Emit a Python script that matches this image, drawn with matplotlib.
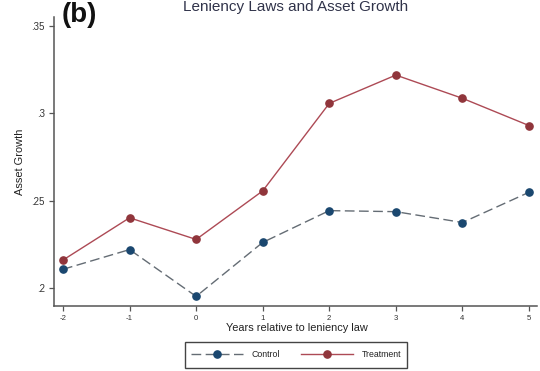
import matplotlib
matplotlib.use("Agg")
import matplotlib.pyplot as plt
from matplotlib.patches import Rectangle
from matplotlib.lines import Line2D

years = [-2, -1, 0, 1, 2, 3, 4, 5]
control = [0.2107, 0.2220, 0.1952, 0.2261, 0.2443, 0.2437, 0.2375, 0.2548]
treatment = [0.2160, 0.2402, 0.2278, 0.2556, 0.3057, 0.3219, 0.3086, 0.2930]
yticks = [0.20, 0.25, 0.30, 0.35]
yticklabels = [".2", ".25", ".3", ".35"]
title = "Leniency Laws and Asset Growth"
panel = "(b)"
xlabel = "Years relative to leniency law"
ylabel = "Asset Growth"
series_names = ["Control", "Treatment"]

plt.rcParams['font.family'] = ['Liberation Sans', 'DejaVu Sans']

W, H = 540, 371
fig = plt.figure(figsize=(W / 100, H / 100), dpi=100)
fig.patch.set_facecolor('white')

left, right, top, bottom = 54, 537, 16.7, 305.7
ax = fig.add_axes([left / W, (H - bottom) / H, (right - left) / W, (bottom - top) / H])

c_mark, c_line = '#1a476f', '#646c74'
t_mark, t_line = '#90353b', '#ad4a55'

ax.plot(years, control, color=c_line, lw=1.0, dashes=(7, 3.2), zorder=2)
ax.plot(years, control, linestyle='none', marker='o', ms=5.2, color=c_mark, zorder=3)
ax.plot(years, treatment, color=t_line, lw=1.0, zorder=2)
ax.plot(years, treatment, linestyle='none', marker='o', ms=5.2, color=t_mark, zorder=3)

ax.set_xlim(-2.135, 5.12)
ax.set_ylim(0.18987, 0.35532)
ax.set_xticks(years)
ax.set_xticklabels([str(y) for y in years], fontsize=5.6, color='#333333')
ax.set_yticks(yticks)
ax.set_yticklabels(yticklabels, fontsize=7, color='#333333')

for s in ['top', 'right']:
    ax.spines[s].set_visible(False)
for s in ['left', 'bottom']:
    ax.spines[s].set_color('#555555')
    ax.spines[s].set_linewidth(1.1)
ax.tick_params(axis='both', direction='out', length=3.5, width=0.9, color='#555555')
ax.tick_params(axis='y', pad=3.2)
ax.tick_params(axis='x', pad=3.0)

fig.text(296 / W, (H - 10.5) / H, title, ha='center', va='baseline', fontsize=11, color='#30334a')
fig.text(62 / W, (H - 22.5) / H, panel, ha='left', va='baseline', fontsize=20, fontweight='bold', color='#111111')
fig.text(296.6 / W, (H - 328) / H, xlabel, ha='center', va='center', fontsize=7.9, color='#222222')
fig.text(20 / W, (H - 161.5) / H, ylabel, ha='center', va='center', rotation=90, fontsize=7.9, color='#222222')

# legend frame
lx0, lx1, ly0, ly1 = 185, 407, 341.7, 368
fig.patches.append(Rectangle((lx0 / W, (H - ly1) / H), (lx1 - lx0) / W, (ly1 - ly0) / H,
                             transform=fig.transFigure, fill=False, edgecolor='#444444', lw=1.0))
h1 = Line2D([], [], color=c_line, lw=1.0, dashes=(7, 3.2), marker='o', ms=5.2,
            markerfacecolor=c_mark, markeredgecolor=c_mark)
h2 = Line2D([], [], color=t_line, lw=1.0, marker='o', ms=5.2,
            markerfacecolor=t_mark, markeredgecolor=t_mark)
fig.legend([h1, h2], series_names, loc='center', bbox_to_anchor=((lx0 + lx1) / 2 / W, (H - (ly0 + ly1) / 2) / H),
           ncol=2, frameon=False, fontsize=6.3, handlelength=6.0, handletextpad=1.0,
           columnspacing=2.3, borderpad=0.0, labelcolor='#222222')

fig.savefig('out.png', dpi=100, facecolor='white')
